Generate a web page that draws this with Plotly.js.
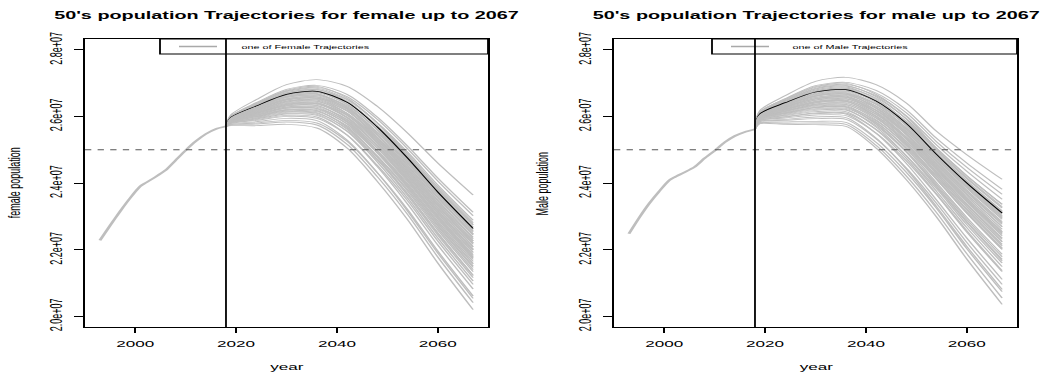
<!DOCTYPE html>
<html>
<head>
<meta charset="utf-8">
<script src="https://cdn.plot.ly/plotly-3.0.1.min.js"></script>
<style>
html,body{margin:0;padding:0;background:#fff;}
#wrap{width:1041px;height:376px;overflow:hidden;position:relative;}
#plot{width:578px;height:376px;transform-origin:0 0;}
</style>
</head>
<body>
<div id="wrap"><div id="plot"></div></div>
<script>
// ---------- data (population in millions) ----------
const histYears = [1993, 1995, 1997, 1999, 2001, 2002, 2004, 2006, 2008, 2010, 2012, 2014, 2016, 2018];
const femaleHist = [22.28, 22.72, 23.15, 23.55, 23.90, 24.00, 24.18, 24.38, 24.68, 24.98, 25.25, 25.47, 25.62, 25.70];
const maleHist   = [22.48, 22.95, 23.38, 23.75, 24.08, 24.17, 24.32, 24.48, 24.74, 24.97, 25.22, 25.41, 25.53, 25.61];

const trajYears = [2018, 2019, 2024, 2030, 2036, 2042, 2048, 2054, 2060, 2067];

const femaleTraj = [
  [25.70,26.05,26.50,26.95,27.10,26.90,26.30,25.50,24.60,23.64],
  [25.70,25.75,25.80,25.88,25.80,25.25,24.31,23.21,21.96,20.61],
  [25.70,25.77,25.84,25.94,25.87,25.29,24.31,23.16,21.90,20.54],
  [25.70,25.79,25.88,26.00,25.94,25.44,24.53,23.47,22.26,20.96],
  [25.70,25.80,25.90,26.03,25.98,25.44,24.49,23.37,22.14,20.82],
  [25.70,25.81,25.92,26.07,26.03,25.56,24.70,23.68,22.50,21.23],
  [25.70,25.81,25.94,26.09,26.06,25.55,24.63,23.55,22.35,21.06],
  [25.70,25.82,25.95,26.12,26.09,25.64,24.80,23.81,22.65,21.40],
  [25.70,25.83,25.97,26.14,26.11,25.61,24.71,23.63,22.44,21.16],
  [25.70,25.83,25.99,26.16,26.14,25.72,24.91,23.94,22.80,21.58],
  [25.70,25.84,26.00,26.19,26.17,25.69,24.81,23.76,22.59,21.34],
  [25.70,25.85,26.02,26.21,26.20,25.78,24.97,23.99,22.86,21.65],
  [25.70,25.85,26.03,26.24,26.23,25.77,24.90,23.86,22.71,21.47],
  [25.70,25.86,26.04,26.25,26.24,25.85,25.05,24.10,22.98,21.78],
  [25.70,25.86,26.06,26.27,26.27,25.82,24.97,23.94,22.80,21.58],
  [25.70,25.87,26.06,26.28,26.29,25.91,25.14,24.20,23.10,21.92],
  [25.70,25.87,26.08,26.31,26.32,25.89,25.05,24.04,22.92,21.71],
  [25.70,25.88,26.09,26.32,26.33,25.85,24.97,23.89,22.74,21.51],
  [25.70,25.88,26.10,26.34,26.36,25.98,25.20,24.25,23.16,21.99],
  [25.70,25.89,26.11,26.36,26.38,25.95,25.13,24.12,23.01,21.82],
  [25.70,25.89,26.13,26.38,26.40,26.03,25.27,24.33,23.25,22.09],
  [25.70,25.89,26.13,26.39,26.42,25.97,25.12,24.07,22.95,21.75],
  [25.70,25.90,26.15,26.41,26.45,26.09,25.34,24.41,23.34,22.20],
  [25.70,25.90,26.16,26.43,26.46,26.04,25.22,24.20,23.10,21.92],
  [25.70,25.91,26.17,26.45,26.49,26.09,25.28,24.28,23.19,22.02],
  [25.70,25.91,26.18,26.46,26.51,26.16,25.43,24.51,23.46,22.33],
  [25.70,25.92,26.20,26.49,26.53,26.08,25.22,24.15,23.04,21.85],
  [25.70,25.92,26.20,26.50,26.55,26.16,25.37,24.38,23.31,22.16],
  [25.70,25.93,26.22,26.52,26.58,26.25,25.52,24.62,23.58,22.47],
  [25.70,25.93,26.23,26.53,26.59,26.18,25.36,24.33,23.25,22.09],
  [25.70,25.94,26.24,26.56,26.62,26.24,25.45,24.46,23.40,22.26],
  [25.70,25.94,26.25,26.57,26.64,26.32,25.61,24.72,23.70,22.61],
  [25.70,25.95,26.27,26.59,26.67,26.29,25.52,24.54,23.49,22.37],
  [25.70,25.95,26.27,26.60,26.68,26.27,25.44,24.41,23.34,22.20],
  [25.70,25.96,26.29,26.63,26.71,26.36,25.61,24.67,23.64,22.54],
  [25.70,25.96,26.30,26.64,26.72,26.42,25.72,24.82,23.82,22.75],
  [25.70,25.97,26.31,26.66,26.75,26.37,25.59,24.59,23.55,22.44],
  [25.70,25.97,26.32,26.68,26.77,26.44,25.70,24.77,23.76,22.68],
  [25.70,25.98,26.34,26.70,26.80,26.50,25.81,24.93,23.94,22.88],
  [25.70,25.98,26.34,26.71,26.81,26.45,25.68,24.69,23.67,22.57],
  [25.70,25.99,26.36,26.74,26.84,26.52,25.80,24.88,23.88,22.81],
  [25.70,26.00,26.38,26.76,26.87,26.59,25.91,25.03,24.06,23.02],
  [25.70,26.00,26.39,26.78,26.90,26.55,25.80,24.82,23.82,22.75],
  [25.70,26.01,26.41,26.81,26.93,26.66,25.98,25.11,24.15,23.12],
  [25.70,25.84,26.00,26.19,26.17,25.67,24.77,23.68,22.50,21.23],
  [25.70,25.89,26.11,26.36,26.38,26.05,25.33,24.46,23.40,22.26],
  [25.70,25.92,26.20,26.50,26.55,26.23,25.51,24.62,23.58,22.47],
  [25.70,25.95,26.27,26.59,26.67,26.21,25.34,24.25,23.16,21.99],
  [25.70,25.74,25.77,25.83,25.74,25.16,24.19,23.06,21.78,20.41],
  [25.70,25.72,25.72,25.76,25.65,25.05,24.05,22.90,21.60,20.20]
];
const femaleHighlight = [25.70,25.97,26.31,26.66,26.75,26.42,25.68,24.75,23.73,22.64];

const maleTraj = [
  [25.61,26.18,26.62,27.05,27.17,26.95,26.40,25.55,24.85,24.11],
  [25.61,25.81,25.83,25.85,25.82,25.22,24.32,23.24,22.03,20.74],
  [25.61,25.84,25.88,25.93,25.91,25.33,24.45,23.39,22.22,20.96],
  [25.61,25.85,25.91,25.98,25.96,25.35,24.42,23.29,22.10,20.81],
  [25.61,25.87,25.95,26.04,26.02,25.50,24.67,23.65,22.53,21.34],
  [25.61,25.88,25.98,26.08,26.07,25.49,24.59,23.49,22.35,21.11],
  [25.61,25.89,25.99,26.10,26.10,25.61,24.82,23.83,22.75,21.60],
  [25.61,25.90,26.02,26.14,26.14,25.60,24.74,23.67,22.57,21.37],
  [25.61,25.91,26.04,26.18,26.19,25.72,24.94,23.96,22.91,21.79],
  [25.61,25.92,26.06,26.21,26.21,25.68,24.82,23.75,22.66,21.49],
  [25.61,25.93,26.08,26.23,26.24,25.81,25.06,24.11,23.10,22.01],
  [25.61,25.94,26.10,26.26,26.27,25.76,24.93,23.88,22.82,21.67],
  [25.61,25.94,26.10,26.27,26.29,25.87,25.15,24.21,23.22,22.16],
  [25.61,25.95,26.12,26.30,26.32,25.83,25.03,24.01,22.97,21.86],
  [25.61,25.96,26.14,26.32,26.35,25.95,25.24,24.32,23.35,22.31],
  [25.61,25.96,26.15,26.34,26.36,25.90,25.12,24.11,23.10,22.01],
  [25.61,25.97,26.16,26.36,26.39,26.01,25.33,24.42,23.47,22.46],
  [25.61,25.97,26.17,26.37,26.41,25.95,25.19,24.19,23.19,22.12],
  [25.61,25.98,26.19,26.40,26.44,26.06,25.38,24.47,23.54,22.54],
  [25.61,25.98,26.20,26.41,26.45,26.01,25.26,24.27,23.29,22.24],
  [25.61,25.99,26.22,26.44,26.48,26.13,25.46,24.57,23.66,22.69],
  [25.61,26.00,26.22,26.45,26.49,26.07,25.33,24.34,23.38,22.35],
  [25.61,26.00,26.24,26.48,26.52,26.18,25.53,24.65,23.75,22.80],
  [25.61,26.01,26.25,26.49,26.54,26.12,25.38,24.39,23.44,22.42],
  [25.61,26.02,26.27,26.52,26.57,26.18,25.47,24.52,23.60,22.61],
  [25.61,26.02,26.28,26.53,26.58,26.25,25.61,24.73,23.85,22.91],
  [25.61,26.03,26.29,26.56,26.61,26.19,25.45,24.45,23.50,22.50],
  [25.61,26.03,26.30,26.57,26.63,26.30,25.66,24.78,23.91,22.99],
  [25.61,26.04,26.32,26.60,26.66,26.26,25.55,24.57,23.66,22.69],
  [25.61,26.04,26.33,26.61,26.67,26.37,25.75,24.88,24.04,23.14],
  [25.61,26.05,26.34,26.63,26.70,26.31,25.60,24.63,23.72,22.76],
  [25.61,26.06,26.35,26.65,26.71,26.38,25.74,24.83,23.97,23.06],
  [25.61,26.06,26.37,26.67,26.74,26.36,25.65,24.68,23.79,22.84],
  [25.61,26.07,26.38,26.69,26.76,26.46,25.85,24.99,24.16,23.29],
  [25.61,26.08,26.40,26.71,26.79,26.42,25.72,24.75,23.88,22.95],
  [25.61,26.08,26.41,26.73,26.80,26.48,25.83,24.91,24.07,23.17],
  [25.61,26.09,26.42,26.75,26.83,26.47,25.77,24.80,23.94,23.02],
  [25.61,26.09,26.43,26.76,26.85,26.55,25.93,25.04,24.22,23.36],
  [25.61,26.10,26.45,26.79,26.88,26.52,25.83,24.86,24.00,23.10],
  [25.61,26.11,26.47,26.82,26.91,26.62,26.02,25.14,24.35,23.51],
  [25.61,26.12,26.48,26.84,26.93,26.59,25.92,24.96,24.13,23.25],
  [25.61,26.12,26.50,26.87,26.96,26.70,26.11,25.24,24.47,23.66],
  [25.61,26.13,26.52,26.89,26.99,26.66,26.00,25.04,24.22,23.36],
  [25.61,26.14,26.53,26.92,27.02,26.78,26.20,25.34,24.60,23.81],
  [25.61,25.94,26.10,26.27,26.29,25.78,24.96,23.91,22.85,21.71],
  [25.61,25.99,26.21,26.43,26.46,25.99,25.18,24.14,23.13,22.05],
  [25.61,26.02,26.28,26.53,26.58,26.11,25.32,24.27,23.29,22.24],
  [25.61,26.04,26.33,26.61,26.67,26.24,25.49,24.47,23.54,22.54],
  [25.61,25.80,25.79,25.80,25.76,25.13,24.21,23.11,21.88,20.55],
  [25.61,25.78,25.76,25.75,25.70,25.05,24.10,22.98,21.72,20.36]
];
const maleHighlight = [25.61,26.08,26.41,26.73,26.80,26.46,25.79,24.86,24.00,23.10];

const baseYear = 2018;
const refLevel = 25.0;
const yTickVals = [20, 22, 24, 26, 28];
const yTickText = ['2.0e+07', '2.2e+07', '2.4e+07', '2.6e+07', '2.8e+07'];
const xTickVals = [2000, 2020, 2040, 2060];
const titles = ["50's population Trajectories for female up to 2067", "50's population Trajectories for male up to 2067"];
const yTitles = ['female population', 'Male population'];
const legendTexts = ['one of Female Trajectories', 'one of Male Trajectories'];

// ---------- drawing ----------
const W = 1041, H = 376, INNER_W = 578;
const sx = W / INNER_W;
document.getElementById('plot').style.transform = 'scale(' + sx + ',1)';
const M = v => v * 1e6;
const GRAY = '#bebebe';
const FONT = 'Liberation Sans, Arial, Helvetica, sans-serif';

const traces = [];
function addPanel(hist, traj, hi, xa, ya) {
  traces.push({x: histYears, y: hist.map(M), xaxis: xa, yaxis: ya, type: 'scatter', mode: 'lines',
    line: {color: GRAY, width: 1.7, shape: 'spline', smoothing: 0.6}, hoverinfo: 'skip'});
  const cut = Math.floor(traj.length * 0.88);
  traj.forEach((t, k) => {
    if (k === cut) {
      traces.push({x: trajYears, y: hi.map(M), xaxis: xa, yaxis: ya, type: 'scatter', mode: 'lines',
        line: {color: '#000000', width: 0.75, shape: 'spline', smoothing: 0.8}, hoverinfo: 'skip'});
    }
    traces.push({x: trajYears, y: t.map(M), xaxis: xa, yaxis: ya, type: 'scatter', mode: 'lines',
      line: {color: GRAY, width: 0.9, shape: 'spline', smoothing: 0.8}, hoverinfo: 'skip'});
  });
}
addPanel(femaleHist, femaleTraj, femaleHighlight, 'x', 'y');
addPanel(maleHist, maleTraj, maleHighlight, 'x2', 'y2');

const px = v => v / W;
const py = v => 1 - v / H;
const plotL = [85, 614], plotR = [488, 1017], plotT = 39, plotB = 327;

function xAxis(i) {
  return {domain: [px(plotL[i]), px(plotR[i])], range: [1990.04, 2069.96], anchor: i ? 'y2' : 'y',
    tickvals: xTickVals, ticks: 'outside', ticklen: 5, tickwidth: 1, tickcolor: '#000',
    showline: true, mirror: true, linecolor: '#000', linewidth: 1, showgrid: false, zeroline: false,
    tickfont: {family: FONT, size: 9.5, color: '#000'}, ticklabelstandoff: 3};
}
function yAxis(i) {
  return {domain: [py(plotB), py(plotT)], range: [M(19.68), M(28.32)], anchor: i ? 'x2' : 'x',
    tickvals: yTickVals.map(M), ticktext: yTickText, tickangle: -90, ticks: 'outside', ticklen: 5,
    tickwidth: 1, tickcolor: '#000', showline: true, mirror: true, linecolor: '#000', linewidth: 1,
    showgrid: false, zeroline: false, tickfont: {family: FONT, size: 9, color: '#000'}, ticklabelstandoff: 3};
}

const shapes = [], annotations = [];
const legBoxL = [160, 712], legLine = [[179, 217], [731, 769]], legText = [237, 788];
for (let i = 0; i < 2; i++) {
  const xr = i ? 'x2' : 'x', yr = i ? 'y2' : 'y';
  shapes.push({type: 'line', xref: xr + ' domain', x0: 0, x1: 1, yref: yr, y0: M(refLevel), y1: M(refLevel),
    line: {color: '#555555', width: 1, dash: '3.5px,3.5px'}});
  shapes.push({type: 'rect', xref: 'paper', yref: 'paper', x0: px(legBoxL[i]), x1: px(plotR[i]), y0: py(54), y1: py(plotT),
    fillcolor: '#ffffff', line: {color: '#000', width: 1}});
  shapes.push({type: 'line', xref: 'paper', yref: 'paper', x0: px(legLine[i][0]), x1: px(legLine[i][1]), y0: py(46.5), y1: py(46.5),
    line: {color: '#a9a9a9', width: 1.3}});
  shapes.push({type: 'line', xref: xr, x0: baseYear, x1: baseYear, yref: yr + ' domain', y0: 0, y1: 1,
    line: {color: '#000', width: 1}});
  const cx = (plotL[i] + plotR[i]) / 2;
  annotations.push({text: '<b>' + titles[i] + '</b>', xref: 'paper', yref: 'paper', x: px(cx), y: py(15.5),
    xanchor: 'center', yanchor: 'middle', showarrow: false, font: {family: FONT, size: 11, color: '#000'}});
  annotations.push({text: 'year', xref: 'paper', yref: 'paper', x: px(cx), y: py(366),
    xanchor: 'center', yanchor: 'middle', showarrow: false, font: {family: FONT, size: 9.5, color: '#000'}});
  annotations.push({text: yTitles[i], xref: 'paper', yref: 'paper', x: px(i ? 543 : 15), y: py(183), textangle: -90,
    xanchor: 'center', yanchor: 'middle', showarrow: false, font: {family: FONT, size: 9, color: '#000'}});
  annotations.push({text: legendTexts[i], xref: 'paper', yref: 'paper', x: px(legText[i]), y: py(46.5),
    xanchor: 'left', yanchor: 'middle', showarrow: false, font: {family: FONT, size: 6, color: '#000'}});
}

const layout = {
  width: INNER_W, height: H, margin: {l: 0, r: 0, t: 0, b: 0, pad: 0},
  paper_bgcolor: '#fff', plot_bgcolor: '#fff', showlegend: false,
  xaxis: xAxis(0), yaxis: yAxis(0), xaxis2: xAxis(1), yaxis2: yAxis(1),
  shapes: shapes, annotations: annotations
};
Plotly.newPlot('plot', traces, layout, {staticPlot: true, displayModeBar: false});
</script>
</body>
</html>
